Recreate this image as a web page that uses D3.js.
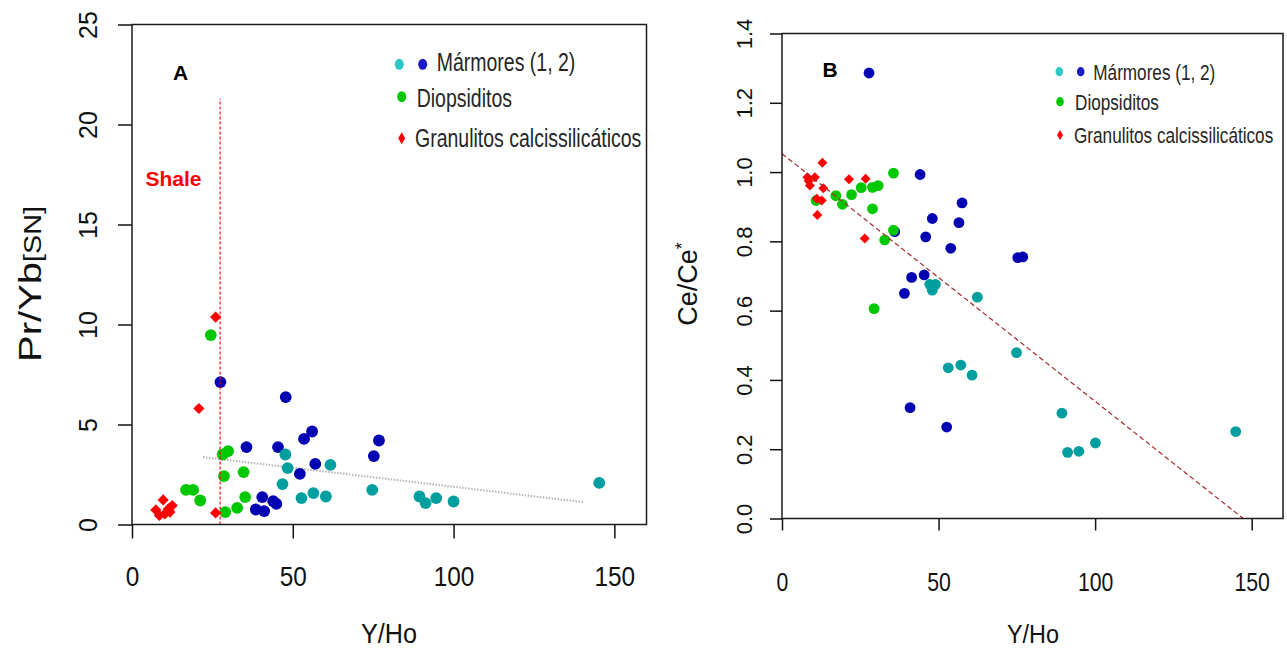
<!DOCTYPE html>
<html>
<head>
<meta charset="utf-8">
<script src="https://cdn.jsdelivr.net/npm/d3@7"></script>
<style>
body { margin: 0; background: #fff; }
svg { display: block; font-family: "Liberation Sans", Arial, sans-serif; }
</style>
</head>
<body>
<svg id="chart" width="1287" height="652"></svg>
<script>
// axis ticks and legend
var xTicks = [0, 50, 100, 150];
var aYTicks = [0, 5, 10, 15, 20, 25];
var bYTicks = [0, 0.2, 0.4, 0.6, 0.8, 1.0, 1.2, 1.4];
var legendLabels = ["Mármores (1, 2)", "Diopsiditos", "Granulitos calcissilicáticos"];

// panel A : Y/Ho vs Pr/Yb[SN]
var aMarmores1 = [[47.7, 3.5], [48.4, 2.82], [61.7, 2.98], [46.8, 2.02], [52.7, 1.32], [56.4, 1.57], [60.3, 1.4],
	[74.7, 1.73], [89.4, 1.4], [91.3, 1.07], [94.6, 1.32], [100, 1.15], [145.3, 2.08]];
var aMarmores2 = [[27.5, 7.12], [47.8, 6.37], [35.6, 3.87], [45.4, 3.87], [53.5, 4.28], [56.0, 4.65], [57.0, 3.03],
	[52.2, 2.53], [40.5, 1.37], [38.5, 0.75], [41.1, 0.67], [43.9, 1.17], [44.9, 1.03], [75.2, 3.42], [76.8, 4.2]];
var aDiopsiditos = [[24.5, 9.47], [28.2, 3.5], [29.9, 3.67], [28.6, 2.42], [34.7, 2.62], [16.8, 1.73], [19.0, 1.73],
	[21.2, 1.2], [35.2, 1.37], [32.7, 0.83], [29.0, 0.62]];
var aGranulitos = [[26.0, 10.37], [20.8, 5.8], [26.0, 0.58], [7.4, 0.73], [9.7, 1.23], [8.5, 0.45], [11.3, 0.78],
	[12.5, 0.95], [11.8, 0.62], [10.2, 0.53]];
var aTrend = [[22.1, 3.37], [140.2, 1.12]];
var aShale = [[27.4, 0], [27.4, 21.3]];

// panel B : Y/Ho vs Ce/Ce*
var bMarmores1 = [[47.2, 0.676], [49.0, 0.676], [48.0, 0.659], [62.4, 0.639], [74.9, 0.479], [53.1, 0.435], [57.1, 0.443],
	[60.7, 0.414], [89.4, 0.304], [91.2, 0.191], [94.8, 0.194], [100.1, 0.218], [144.9, 0.251]];
var bMarmores2 = [[27.8, 1.286], [44.1, 0.993], [57.5, 0.911], [48.0, 0.866], [56.5, 0.854], [36.0, 0.828], [45.9, 0.813],
	[53.9, 0.780], [75.3, 0.753], [76.9, 0.755], [45.4, 0.703], [41.4, 0.696], [39.1, 0.650], [40.9, 0.320], [52.6, 0.264]];
var bDiopsiditos = [[35.6, 0.997], [30.7, 0.961], [28.9, 0.956], [25.3, 0.955], [22.2, 0.935], [17.2, 0.932], [19.3, 0.907],
	[10.9, 0.918], [28.9, 0.894], [35.6, 0.832], [32.8, 0.804], [29.4, 0.606]];
var bGranulitos = [[12.9, 1.027], [8.1, 0.985], [10.5, 0.985], [8.9, 0.961], [8.5, 0.974], [13.2, 0.953], [21.4, 0.979],
	[26.7, 0.981], [11.1, 0.923], [12.7, 0.918], [11.3, 0.876], [26.4, 0.808]];
var bTrend = [[0, 1.053], [147.3, 0]];

var colTeal = "#009e9e", colBlue = "#0202b2", colGreen = "#00c800", colRed = "#ff0000";
var legTeal = "#2ec6c6", legBlue = "#1a1ac4";

var svg = d3.select("#chart");

function txt(g, x, y, s, size, o) {
	o = o || {};
	return g.append("text")
	.attr("transform", "translate(" + x + "," + y + ")" + (o.rot ? " rotate(" + o.rot + ")" : "") + " scale(" + (o.sx || 1) + ",1)")
	.attr("font-size", size)
	.attr("text-anchor", o.anchor || "start")
	.attr("font-weight", o.bold ? "bold" : null)
	.attr("fill", o.fill || "#111")
	.text(s);
}

function drawPoints(g, data, x, y, color, diamond, r) {
	var sel = g.append("g").selectAll("path").data(data).enter();
	if (diamond) {
		sel.append("path")
		.attr("d", d3.symbol(d3.symbolSquare, 2 * r * r)())
		.attr("transform", function(d) { return "translate(" + x(d[0]) + "," + y(d[1]) + ") rotate(45)"; })
		.attr("fill", color);
	} else {
		sel.append("circle")
		.attr("cx", function(d) { return x(d[0]); })
		.attr("cy", function(d) { return y(d[1]); })
		.attr("r", r)
		.attr("fill", color);
	}
}

function drawAxes(g, x, y, p) {
	var xa = g.append("g")
	.attr("transform", "translate(0," + y.range()[0] + ")")
	.call(d3.axisBottom(x).tickValues(xTicks).tickSize(p.tick).tickSizeOuter(0).tickFormat(d3.format("d")));
	xa.attr("font-size", null).attr("font-family", null);
	xa.select(".domain").remove();
	xa.selectAll(".tick line").attr("stroke", "#111").attr("stroke-width", 1.5);
	xa.selectAll(".tick text")
	.attr("y", 0).attr("dy", null)
	.attr("font-size", p.xFont)
	.attr("fill", "#111")
	.attr("transform", "translate(0," + p.xLabOff + ") scale(" + p.xSx + ",1)");

	var ya = g.append("g")
	.attr("transform", "translate(" + x.range()[0] + ",0)")
	.call(d3.axisLeft(y).tickValues(p.yTicks).tickSize(p.tick).tickSizeOuter(0).tickFormat(p.yFmt));
	ya.attr("font-size", null).attr("font-family", null);
	ya.select(".domain").remove();
	ya.selectAll(".tick line").attr("stroke", "#111").attr("stroke-width", 1.5);
	ya.selectAll(".tick text")
	.attr("x", 0).attr("dy", null)
	.attr("font-size", p.yFont)
	.attr("fill", "#111")
	.attr("text-anchor", "middle")
	.attr("transform", "translate(" + (-p.yLabOff) + ",0) rotate(-90)");

	// box
	g.append("rect")
	.attr("x", x.range()[0]).attr("y", y.range()[1])
	.attr("width", x.range()[1] - x.range()[0])
	.attr("height", y.range()[0] - y.range()[1])
	.attr("fill", "none").attr("stroke", "#1a1a1a").attr("stroke-width", 1.5);
}

function drawLegend(g, L) {
	var ell = function(cx, cy, c) {
		g.append("ellipse").attr("cx", cx).attr("cy", cy).attr("rx", L.rx).attr("ry", L.ry).attr("fill", c);
	};
	ell(L.tealX, L.sy[0], legTeal);
	ell(L.blueX, L.sy[0], legBlue);
	ell(L.symX, L.sy[1], colGreen);
	g.append("path")
	.attr("d", d3.symbol(d3.symbolDiamond, L.dSize)())
	.attr("transform", "translate(" + L.symX + "," + L.sy[2] + ")")
	.attr("fill", colRed);
	legendLabels.forEach(function(s, i) {
		txt(g, L.tx[i], L.base[i], s, L.font, {sx: L.sx, fill: "#262626"});
	});
}

// ---------- panel A ----------
var gA = svg.append("g");
var xA = d3.scaleLinear().domain([0, 160]).range([132, 646.5]);
var yA = d3.scaleLinear().domain([0, 25]).range([524.5, 24.5]);

gA.append("path")
.attr("d", d3.line().x(function(d) { return xA(d[0]); }).y(function(d) { return yA(d[1]); })(aTrend))
.attr("stroke", "#b4b4b4").attr("stroke-width", 2).attr("stroke-dasharray", "1.5,1.5").attr("fill", "none");

drawPoints(gA, aMarmores2, xA, yA, colBlue, false, 5.9);
drawPoints(gA, aMarmores1, xA, yA, colTeal, false, 5.9);
drawPoints(gA, aDiopsiditos, xA, yA, colGreen, false, 5.9);
drawPoints(gA, aGranulitos, xA, yA, colRed, true, 5.6);

gA.append("path")
.attr("d", d3.line().x(function(d) { return xA(d[0]); }).y(function(d) { return yA(d[1]); })(aShale))
.attr("stroke", colRed).attr("stroke-width", 1.1).attr("stroke-dasharray", "3,2").attr("fill", "none");

drawAxes(gA, xA, yA, {tick: 14, xFont: 28, xSx: 0.87, xLabOff: 61.5, yTicks: aYTicks, yFmt: d3.format("d"), yFont: 25, yLabOff: 35});

txt(gA, 180.6, 80, "A", 21, {bold: true, anchor: "middle", fill: "#000"});
txt(gA, 173.5, 186, "Shale", 21, {bold: true, anchor: "middle", fill: colRed});

drawLegend(gA, {tealX: 399.3, blueX: 422.7, symX: 401.7, sy: [64.3, 96.7, 138.3], rx: 4.5, ry: 5.5, dSize: 42,
	tx: [436.7, 416.7, 415], base: [70.7, 107, 146.5], font: 25, sx: 0.78});

txt(gA, 389, 643, "Y/Ho", 28, {anchor: "middle", sx: 0.9});
var yl = txt(gA, 41, 284, "Pr/Yb", 32, {anchor: "middle", rot: -90, sx: 1.25});
yl.append("tspan").attr("font-size", 23).text("[SN]");

// ---------- panel B ----------
var gB = svg.append("g");
var xB = d3.scaleLinear().domain([0, 160]).range([782, 1283]);
var yB = d3.scaleLinear().domain([0, 1.4]).range([518.5, 33.5]);

drawPoints(gB, bMarmores2, xB, yB, colBlue, false, 5.4);
drawPoints(gB, bMarmores1, xB, yB, colTeal, false, 5.4);
drawPoints(gB, bDiopsiditos, xB, yB, colGreen, false, 5.4);
drawPoints(gB, bGranulitos, xB, yB, colRed, true, 5);

gB.append("path")
.attr("d", d3.line().x(function(d) { return xB(d[0]); }).y(function(d) { return yB(d[1]); })(bTrend))
.attr("stroke", "#a52a2a").attr("stroke-width", 1.2).attr("stroke-dasharray", "5,3").attr("fill", "none");

drawAxes(gB, xB, yB, {tick: 12, xFont: 25, xSx: 0.85, xLabOff: 72, yTicks: bYTicks, yFmt: d3.format(".1f"), yFont: 22, yLabOff: 30});

txt(gB, 830, 77, "B", 21, {bold: true, anchor: "middle", fill: "#000"});

drawLegend(gB, {tealX: 1059.3, blueX: 1080.7, symX: 1060, sy: [71.7, 101.7, 135], rx: 3.8, ry: 4.6, dSize: 30,
	tx: [1093.3, 1075, 1074], base: [79.6, 109.6, 143], font: 22, sx: 0.78});

txt(gB, 1033, 643, "Y/Ho", 26, {anchor: "middle", sx: 0.9});
var yl2 = txt(gB, 697, 284, "Ce/Ce", 27, {anchor: "middle", rot: -90});
yl2.append("tspan").attr("font-size", 18).attr("dy", -9).text("*");
</script>
</body>
</html>
